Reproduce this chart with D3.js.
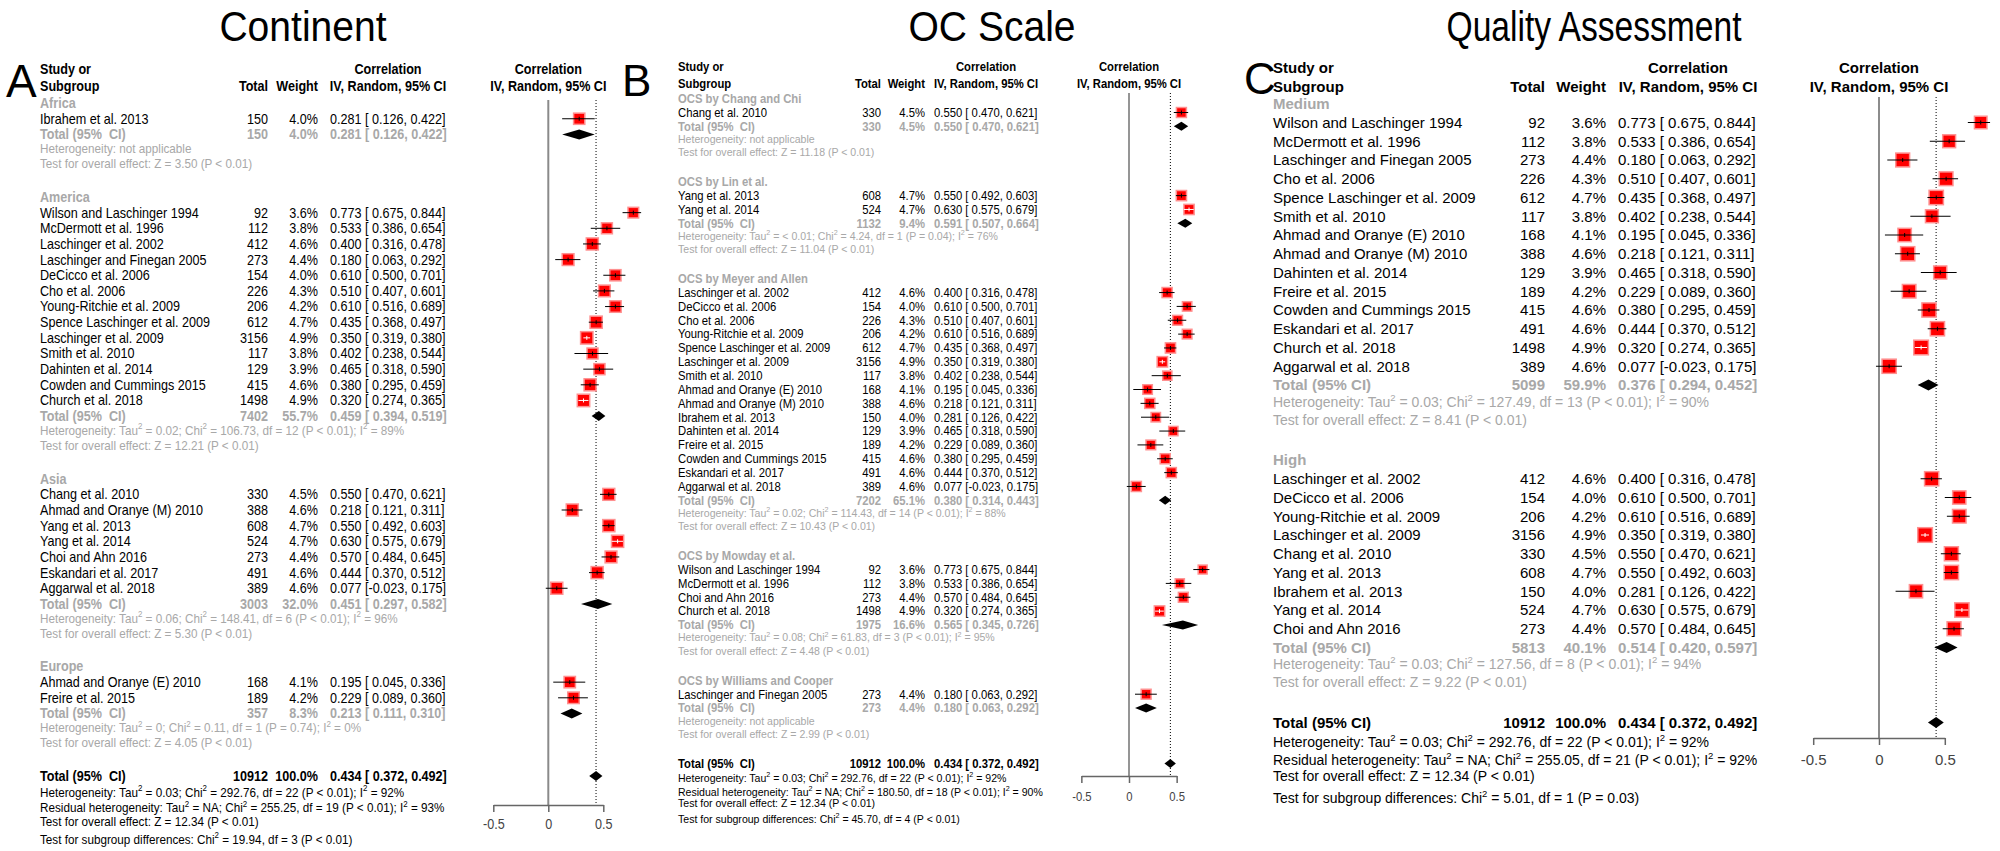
<!DOCTYPE html>
<html>
<head>
<meta charset="utf-8">
<script src="https://cdn.jsdelivr.net/npm/d3@7"></script>
<style>
  body { margin: 0; background: #fff; }
  svg { display: block; }
  text { font-family: "Liberation Sans", Arial, sans-serif; white-space: pre; }
</style>
</head>
<body>
<svg id="chart" width="2000" height="851"></svg>
<script>
// ---------- study-level results (correlation, random effects) ----------
const studyNames = [
  "Wilson and Laschinger 1994", "McDermott et al. 1996", "Laschinger et al. 2002",
  "Laschinger and Finegan 2005", "DeCicco et al. 2006", "Cho et al. 2006",
  "Young-Ritchie et al. 2009", "Spence Laschinger et al. 2009", "Laschinger et al. 2009",
  "Smith et al. 2010", "Chang et al. 2010", "Ahmad and Oranye (E) 2010",
  "Ahmad and Oranye (M) 2010", "Ibrahem et al. 2013", "Yang et al. 2013",
  "Yang et al. 2014", "Dahinten et al. 2014", "Freire et al. 2015",
  "Cowden and Cummings 2015", "Choi and Ahn 2016", "Eskandari et al. 2017",
  "Church et al. 2018", "Aggarwal et al. 2018"
];
const studyTotal  = [92, 112, 412, 273, 154, 226, 206, 612, 3156, 117, 330, 168, 388, 150, 608, 524, 129, 189, 415, 273, 491, 1498, 389];
const studyWeight = [3.6, 3.8, 4.6, 4.4, 4.0, 4.3, 4.2, 4.7, 4.9, 3.8, 4.5, 4.1, 4.6, 4.0, 4.7, 4.7, 3.9, 4.2, 4.6, 4.4, 4.6, 4.9, 4.6];
const studyCor    = [0.773, 0.533, 0.400, 0.180, 0.610, 0.510, 0.610, 0.435, 0.350, 0.402, 0.550, 0.195, 0.218, 0.281, 0.550, 0.630, 0.465, 0.229, 0.380, 0.570, 0.444, 0.320, 0.077];
const studyLower  = [0.675, 0.386, 0.316, 0.063, 0.500, 0.407, 0.516, 0.368, 0.319, 0.238, 0.470, 0.045, 0.121, 0.126, 0.492, 0.575, 0.318, 0.089, 0.295, 0.484, 0.370, 0.274, -0.023];
const studyUpper  = [0.844, 0.654, 0.478, 0.292, 0.701, 0.601, 0.689, 0.497, 0.380, 0.544, 0.621, 0.336, 0.311, 0.422, 0.603, 0.679, 0.590, 0.360, 0.459, 0.645, 0.512, 0.365, 0.175];

// ---------- pooled result ----------
const overallTotal = 10912;
const overallWeight = 100.0;
const overallCor = 0.434;
const overallLower = 0.372;
const overallUpper = 0.492;

// ---------- subgroups: continent ----------
const continentLabels = ["Africa", "America", "Asia", "Europe"];
const continentMembers = [
  ["Ibrahem et al. 2013"],
  ["Wilson and Laschinger 1994", "McDermott et al. 1996", "Laschinger et al. 2002", "Laschinger and Finegan 2005",
   "DeCicco et al. 2006", "Cho et al. 2006", "Young-Ritchie et al. 2009", "Spence Laschinger et al. 2009",
   "Laschinger et al. 2009", "Smith et al. 2010", "Dahinten et al. 2014", "Cowden and Cummings 2015", "Church et al. 2018"],
  ["Chang et al. 2010", "Ahmad and Oranye (M) 2010", "Yang et al. 2013", "Yang et al. 2014",
   "Choi and Ahn 2016", "Eskandari et al. 2017", "Aggarwal et al. 2018"],
  ["Ahmad and Oranye (E) 2010", "Freire et al. 2015"]
];
const continentTotal  = [150, 7402, 3003, 357];
const continentWeight = [4.0, 55.7, 32.0, 8.3];
const continentCor    = [0.281, 0.459, 0.451, 0.213];
const continentLower  = [0.126, 0.394, 0.297, 0.111];
const continentUpper  = [0.422, 0.519, 0.582, 0.310];
const continentHet = [
  "Heterogeneity: not applicable",
  "Heterogeneity: Tau^2 = 0.02; Chi^2 = 106.73, df = 12 (P < 0.01); I^2 = 89%",
  "Heterogeneity: Tau^2 = 0.06; Chi^2 = 148.41, df = 6 (P < 0.01); I^2 = 96%",
  "Heterogeneity: Tau^2 = 0; Chi^2 = 0.11, df = 1 (P = 0.74); I^2 = 0%"
];
const continentZ = ["3.50", "12.21", "5.30", "4.05"];
const continentOverall = [
  "Heterogeneity: Tau^2 = 0.03; Chi^2 = 292.76, df = 22 (P < 0.01); I^2 = 92%",
  "Residual heterogeneity: Tau^2 = NA; Chi^2 = 255.25, df = 19 (P < 0.01); I^2 = 93%",
  "Test for overall effect: Z = 12.34 (P < 0.01)",
  "Test for subgroup differences: Chi^2 = 19.94, df = 3 (P < 0.01)"
];

// ---------- subgroups: OC scale ----------
const scaleLabels = ["OCS by Chang and Chi", "OCS by Lin et al.", "OCS by Meyer and Allen", "OCS by Mowday et al.", "OCS by Williams and Cooper"];
const scaleMembers = [
  ["Chang et al. 2010"],
  ["Yang et al. 2013", "Yang et al. 2014"],
  ["Laschinger et al. 2002", "DeCicco et al. 2006", "Cho et al. 2006", "Young-Ritchie et al. 2009",
   "Spence Laschinger et al. 2009", "Laschinger et al. 2009", "Smith et al. 2010", "Ahmad and Oranye (E) 2010",
   "Ahmad and Oranye (M) 2010", "Ibrahem et al. 2013", "Dahinten et al. 2014", "Freire et al. 2015",
   "Cowden and Cummings 2015", "Eskandari et al. 2017", "Aggarwal et al. 2018"],
  ["Wilson and Laschinger 1994", "McDermott et al. 1996", "Choi and Ahn 2016", "Church et al. 2018"],
  ["Laschinger and Finegan 2005"]
];
const scaleTotal  = [330, 1132, 7202, 1975, 273];
const scaleWeight = [4.5, 9.4, 65.1, 16.6, 4.4];
const scaleCor    = [0.550, 0.591, 0.380, 0.565, 0.180];
const scaleLower  = [0.470, 0.507, 0.314, 0.345, 0.063];
const scaleUpper  = [0.621, 0.664, 0.443, 0.726, 0.292];
const scaleHet = [
  "Heterogeneity: not applicable",
  "Heterogeneity: Tau^2 = < 0.01; Chi^2 = 4.24, df = 1 (P = 0.04); I^2 = 76%",
  "Heterogeneity: Tau^2 = 0.02; Chi^2 = 114.43, df = 14 (P < 0.01); I^2 = 88%",
  "Heterogeneity: Tau^2 = 0.08; Chi^2 = 61.83, df = 3 (P < 0.01); I^2 = 95%",
  "Heterogeneity: not applicable"
];
const scaleZ = ["11.18", "11.04", "10.43", "4.48", "2.99"];
const scaleOverall = [
  "Heterogeneity: Tau^2 = 0.03; Chi^2 = 292.76, df = 22 (P < 0.01); I^2 = 92%",
  "Residual heterogeneity: Tau^2 = NA; Chi^2 = 180.50, df = 18 (P < 0.01); I^2 = 90%",
  "Test for overall effect: Z = 12.34 (P < 0.01)",
  "Test for subgroup differences: Chi^2 = 45.70, df = 4 (P < 0.01)"
];

// ---------- subgroups: quality assessment ----------
const qualityLabels = ["Medium", "High"];
const qualityMembers = [
  ["Wilson and Laschinger 1994", "McDermott et al. 1996", "Laschinger and Finegan 2005", "Cho et al. 2006",
   "Spence Laschinger et al. 2009", "Smith et al. 2010", "Ahmad and Oranye (E) 2010", "Ahmad and Oranye (M) 2010",
   "Dahinten et al. 2014", "Freire et al. 2015", "Cowden and Cummings 2015", "Eskandari et al. 2017",
   "Church et al. 2018", "Aggarwal et al. 2018"],
  ["Laschinger et al. 2002", "DeCicco et al. 2006", "Young-Ritchie et al. 2009", "Laschinger et al. 2009",
   "Chang et al. 2010", "Yang et al. 2013", "Ibrahem et al. 2013", "Yang et al. 2014", "Choi and Ahn 2016"]
];
const qualityTotal  = [5099, 5813];
const qualityWeight = [59.9, 40.1];
const qualityCor    = [0.376, 0.514];
const qualityLower  = [0.294, 0.420];
const qualityUpper  = [0.452, 0.597];
const qualityHet = [
  "Heterogeneity: Tau^2 = 0.03; Chi^2 = 127.49, df = 13 (P < 0.01); I^2 = 90%",
  "Heterogeneity: Tau^2 = 0.03; Chi^2 = 127.56, df = 8 (P < 0.01); I^2 = 94%"
];
const qualityZ = ["8.41", "9.22"];
const qualityOverall = [
  "Heterogeneity: Tau^2 = 0.03; Chi^2 = 292.76, df = 22 (P < 0.01); I^2 = 92%",
  "Residual heterogeneity: Tau^2 = NA; Chi^2 = 255.05, df = 21 (P < 0.01); I^2 = 92%",
  "Test for overall effect: Z = 12.34 (P < 0.01)",
  "Test for subgroup differences: Chi^2 = 5.01, df = 1 (P = 0.03)"
];

// ---------- axis ----------
const tickValues = [-0.5, 0, 0.5];
const tickLabels = ["-0.5", "0", "0.5"];

// ---------- drawing ----------
const svg = d3.select("#chart");
const GREY = "#a8a8a8";

// text with "^2" rendered as superscript
function rich(sel, str, size) {
  str.split("^2").forEach((part, i) => {
    if (i > 0) {
      sel.append("tspan").attr("dy", -size * 0.42).attr("font-size", size * 0.68).text("2");
      sel.append("tspan").attr("dy", size * 0.42).text(part);
    } else {
      sel.append("tspan").text(part);
    }
  });
}

function put(g, x, y, str, o) {
  const t = g.append("text")
    .attr("transform", `translate(${x},${y}) scale(${o.sx == null ? 1 : o.sx},1)`)
    .attr("font-size", o.size)
    .attr("font-weight", o.bold ? "bold" : "normal")
    .attr("fill", o.fill || "#000")
    .attr("text-anchor", o.anchor || "start");
  rich(t, str, o.size);
  return t;
}

const fmtCI = (r, lo, hi) => `${r.toFixed(3)} [${lo < 0 ? "" : " "}${lo.toFixed(3)}, ${hi.toFixed(3)}]`;
const fmtW = w => w.toFixed(1) + "%";

function drawPanel(p) {
  const L = p.layout;
  const g = svg.append("g");
  const rowY = r => L.base + r * L.rowH;
  const x = d3.scaleLinear().domain([-0.5, 0.5]).range([L.zero - L.half, L.zero + L.half]);
  const txt = { sx: L.sx, size: L.fs };
  const het = { sx: L.sx, size: L.hetFs };

  // title and panel letter
  put(g, L.titleX, 41, p.title, { size: 42, anchor: "middle", sx: L.titleSx });
  put(g, L.letterX, L.letterY, p.letter, { size: L.letterFs });

  // column headers
  const hb = { sx: L.sx, size: L.fs, bold: true };
  put(g, L.labelX, L.head1, "Study or", hb);
  put(g, L.labelX, L.head2, "Subgroup", hb);
  put(g, L.totalX, L.head2, "Total", { ...hb, anchor: "end" });
  put(g, L.weightX, L.head2, "Weight", { ...hb, anchor: "end" });
  put(g, L.corX, L.head1, "Correlation", { ...hb, anchor: "middle" });
  put(g, L.corX, L.head2, "IV, Random, 95% CI", { ...hb, anchor: "middle" });
  put(g, x(0), L.head1, "Correlation", { ...hb, anchor: "middle" });
  put(g, x(0), L.head2, "IV, Random, 95% CI", { ...hb, anchor: "middle" });

  const plot = g.append("g");
  const refLines = plot.append("g");
  const marks = plot.append("g");

  const totalLabel = L.sx < 1 ? "Total (95%\u00a0 CI)" : "Total (95% CI)";

  function diamond(cy, est, lo, hi) {
    marks.append("path")
      .attr("d", `M${x(lo)},${cy} L${x(est)},${cy - L.dia} L${x(hi)},${cy} L${x(est)},${cy + L.dia} Z`)
      .attr("fill", "#000");
  }

  let row = 0;
  p.groups.forEach((name, gi) => {
    put(g, L.labelX, rowY(row), name, { ...txt, bold: true, fill: GREY });
    row++;
    p.members[gi].forEach(s => {
      const k = studyNames.indexOf(s);
      const y = rowY(row);
      put(g, L.labelX, y, s, txt);
      put(g, L.totalX, y, String(studyTotal[k]), { ...txt, anchor: "end" });
      put(g, L.weightX, y, fmtW(studyWeight[k]), { ...txt, anchor: "end" });
      put(g, L.ciX, y, fmtCI(studyCor[k], studyLower[k], studyUpper[k]), txt);

      const cy = y - L.fs * 0.35;
      const side = L.side * Math.sqrt(studyWeight[k]);
      const inside = x(studyUpper[k]) - x(studyLower[k]) < side;
      marks.append("rect")
        .attr("x", x(studyCor[k]) - side / 2).attr("y", cy - side / 2)
        .attr("width", side).attr("height", side)
        .attr("fill", "#ff0000").attr("stroke", "#ff9090").attr("stroke-width", 1.5);
      const col = inside ? "#fff" : "#000";
      marks.append("line")
        .attr("x1", x(studyLower[k])).attr("x2", x(studyUpper[k]))
        .attr("y1", cy).attr("y2", cy)
        .attr("stroke", col).attr("stroke-width", 1);
      marks.append("line")
        .attr("x1", x(studyCor[k])).attr("x2", x(studyCor[k]))
        .attr("y1", cy - 2).attr("y2", cy + 2)
        .attr("stroke", col).attr("stroke-width", 1);
      row++;
    });
    // subgroup pooled row
    const ty = rowY(row);
    const gs = { ...txt, bold: true, fill: GREY };
    put(g, L.labelX, ty, totalLabel, gs);
    put(g, L.totalX, ty, String(p.gTotal[gi]), { ...gs, anchor: "end" });
    put(g, L.weightX, ty, fmtW(p.gWeight[gi]), { ...gs, anchor: "end" });
    put(g, L.ciX, ty, fmtCI(p.gCor[gi], p.gLower[gi], p.gUpper[gi]), gs);
    diamond(ty - L.fs * 0.35, p.gCor[gi], p.gLower[gi], p.gUpper[gi]);
    put(g, L.labelX, rowY(row + 1 - 0.12), p.gHet[gi], { ...het, fill: GREY });
    put(g, L.labelX, rowY(row + 2 - 0.15), `Test for overall effect: Z = ${p.gZ[gi]} (P < 0.01)`, { ...het, fill: GREY });
    row += 4;
  });

  // overall pooled row
  const oy = rowY(row);
  const ob = { ...txt, bold: true };
  put(g, L.labelX, oy, totalLabel, ob);
  put(g, L.totalX, oy, String(overallTotal), { ...ob, anchor: "end" });
  put(g, L.weightX, oy, fmtW(overallWeight), { ...ob, anchor: "end" });
  put(g, L.ciX, oy, fmtCI(overallCor, overallLower, overallUpper), ob);
  diamond(oy - L.fs * 0.35, overallCor, overallLower, overallUpper);
  put(g, L.labelX, rowY(row + 1), p.overall[0], het);
  put(g, L.labelX, rowY(row + 2), p.overall[1], het);
  put(g, L.labelX, rowY(row + 3 - 0.15), p.overall[2], het);
  put(g, L.labelX, rowY(row + 4), p.overall[3], het);

  // reference lines: no effect and pooled estimate
  refLines.append("line")
    .attr("x1", x(0)).attr("x2", x(0)).attr("y1", L.top).attr("y2", L.axisY)
    .attr("stroke", L.zeroCol).attr("stroke-width", L.zeroW);
  refLines.append("line")
    .attr("x1", x(overallCor)).attr("x2", x(overallCor)).attr("y1", L.top).attr("y2", L.axisY)
    .attr("stroke", "#000").attr("stroke-width", 1).attr("stroke-dasharray", "1,2");

  // bottom axis
  const ax = plot.append("g")
    .attr("transform", `translate(0,${L.axisY})`)
    .call(d3.axisBottom(x).tickValues(tickValues).tickFormat((d, i) => tickLabels[i]).tickSize(7).tickSizeOuter(0));
  ax.select(".domain").attr("stroke", "#666").attr("stroke-width", 1.5);
  ax.selectAll(".tick line").attr("stroke", "#666").attr("stroke-width", 1.5);
  ax.selectAll(".tick text")
    .attr("y", L.tickDy).attr("dy", 0)
    .attr("font-size", L.tickFs)
    .attr("fill", "#444")
    .attr("font-family", "Liberation Sans, Arial, sans-serif")
    .attr("transform", `scale(${L.sx},1)`);
}

drawPanel({
  title: "Continent", letter: "A",
  groups: continentLabels, members: continentMembers,
  gTotal: continentTotal, gWeight: continentWeight, gCor: continentCor,
  gLower: continentLower, gUpper: continentUpper, gHet: continentHet, gZ: continentZ,
  overall: continentOverall,
  layout: { labelX: 40, totalX: 268, weightX: 318, ciX: 330, corX: 388, base: 108, rowH: 15.65,
            fs: 14, hetFs: 13, sx: 0.9, zero: 548.3, half: 55, top: 100, axisY: 805, tickDy: 24,
            tickFs: 14, side: 5.6, dia: 5, zeroW: 2, zeroCol: "#8a8a8a", head1: 74, head2: 91,
            titleX: 303, titleSx: 0.93, letterX: 6, letterY: 97, letterFs: 46 }
});

drawPanel({
  title: "OC Scale", letter: "B",
  groups: scaleLabels, members: scaleMembers,
  gTotal: scaleTotal, gWeight: scaleWeight, gCor: scaleCor,
  gLower: scaleLower, gUpper: scaleUpper, gHet: scaleHet, gZ: scaleZ,
  overall: scaleOverall,
  layout: { labelX: 678, totalX: 881, weightX: 925, ciX: 934, corX: 986, base: 103, rowH: 13.85,
            fs: 12.4, hetFs: 11.6, sx: 0.91, zero: 1129, half: 47.65, top: 93, axisY: 776, tickDy: 25,
            tickFs: 12.4, side: 4.7, dia: 4.5, zeroW: 1.8, zeroCol: "#8a8a8a", head1: 71, head2: 88,
            titleX: 992, titleSx: 0.93, letterX: 622, letterY: 96, letterFs: 44 }
});

drawPanel({
  title: "Quality Assessment", letter: "C",
  groups: qualityLabels, members: qualityMembers,
  gTotal: qualityTotal, gWeight: qualityWeight, gCor: qualityCor,
  gLower: qualityLower, gUpper: qualityUpper, gHet: qualityHet, gZ: qualityZ,
  overall: qualityOverall,
  layout: { labelX: 1273, totalX: 1545, weightX: 1606, ciX: 1618, corX: 1688, base: 109, rowH: 18.75,
            fs: 15, hetFs: 14, sx: 1, zero: 1879, half: 65.8, top: 97, axisY: 738, tickDy: 27,
            tickFs: 15, side: 6.6, dia: 5.5, zeroW: 1.5, zeroCol: "#666", head1: 73, head2: 92,
            titleX: 1594, titleSx: 0.8, letterX: 1244, letterY: 94, letterFs: 44 }
});
</script>
</body>
</html>
